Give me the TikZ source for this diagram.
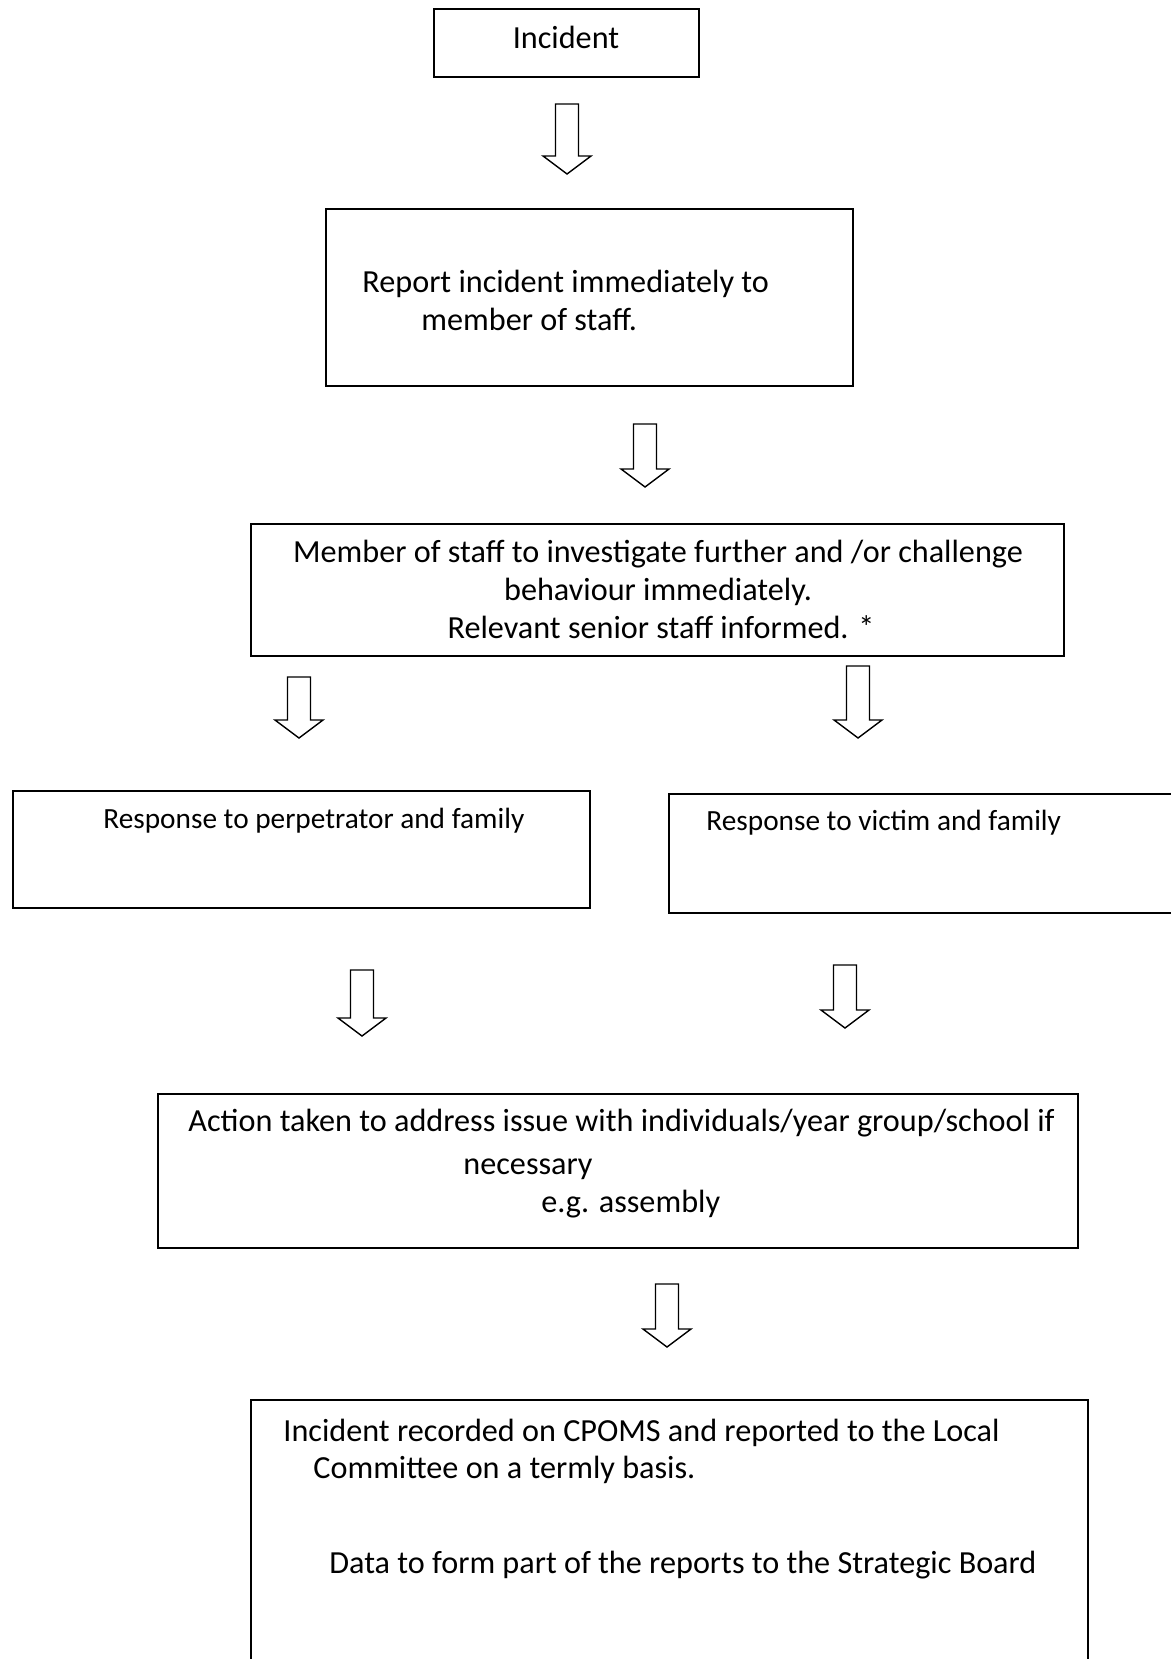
\documentclass[tikz,border=0pt]{standalone}
\usepackage{fontspec}
\setmainfont{Carlito}
\usetikzlibrary{calc}
\newlength\pxu
\setlength\pxu{0.5pt}

\tikzset{
    box/.style={draw, line width=1pt, inner sep=0pt, anchor=north west},
    txt/.style={font=\fontsize{16.1}{19}\selectfont, inner sep=0pt, text height=11.2pt, text depth=3.2pt},
    smalltxt/.style={txt, font=\fontsize{14.65}{18}\selectfont},
    hollow/.style={line width=0.7pt, line join=miter, to path={
        ($(\tikztostart)+(-11.5,0)$) -- ($(\tikztotarget)+(-11.5,-18)$) -- ($(\tikztotarget)+(-24,-18)$)
        -- (\tikztotarget) -- ($(\tikztotarget)+(24,-18)$) -- ($(\tikztotarget)+(11.5,-18)$)
        -- ($(\tikztostart)+(11.5,0)$) -- cycle}}
}

\begin{document}
\begin{tikzpicture}[x=0.5pt,y=-0.5pt]

    \clip (0,0) rectangle (1171,1659);

    % boxes
    \node[box, minimum width=265\pxu, minimum height=68\pxu] (inc) at (433,8) {};
    \node[box, minimum width=527\pxu, minimum height=177\pxu] (rep) at (325,208) {};
    \node[box, minimum width=813\pxu, minimum height=132\pxu] (staff) at (250,523) {};
    \node[box, minimum width=577\pxu, minimum height=117\pxu] (perp) at (12,790) {};
    \node[box, minimum width=540\pxu, minimum height=119\pxu] (vict) at (668,793) {}; % runs off the edge
    \node[box, minimum width=920\pxu, minimum height=154\pxu] (act) at (157,1093) {};
    \node[box, minimum width=837\pxu, minimum height=300\pxu] (rec) at (250,1399) {}; % runs off the edge

    % texts
    \node[txt] (t-inc) at (566,41) {Incident};
    \node[txt, anchor=west] (t-rep1) at (362,284) {Report incident immediately to};
    \node[txt, anchor=west] (t-rep2) at (421,322) {member of staff.};
    \node[txt] (t-staff1) at (658,554) {Member of staff to investigate further and /or challenge};
    \node[txt] (t-staff2) at (658,592) {behaviour immediately.};
    \node[txt] (t-staff3) at (661,630) {Relevant senior staff informed. *};
    \node[smalltxt, anchor=west] (t-perp) at (103,820) {Response to perpetrator and family};
    \node[smalltxt, anchor=west] (t-vict) at (706,822) {Response to victim and family};
    \node[txt, anchor=west] (t-act1) at (188,1123) {Action taken to address issue with individuals/year group/school if};
    \node[txt, anchor=west] (t-act2) at (463,1166) {necessary};
    \node[txt, anchor=west] (t-act3) at (541,1204) {e.g. assembly};
    \node[txt, anchor=west] (t-rec1) at (283,1433) {Incident recorded on CPOMS and reported to the Local};
    \node[txt, anchor=west] (t-rec2) at (313,1470) {Committee on a termly basis.};
    \node[txt, anchor=west] (t-rec3) at (329,1565) {Data to form part of the reports to the Strategic Board};

    % arrow ends
    \coordinate (a1s) at (567,104);  \coordinate (a1e) at (567,174);
    \coordinate (a2s) at (645,424);  \coordinate (a2e) at (645,487);
    \coordinate (a3s) at (299,677);  \coordinate (a3e) at (299,738);
    \coordinate (a4s) at (858,666);  \coordinate (a4e) at (858,738);
    \coordinate (a5s) at (362,970);  \coordinate (a5e) at (362,1036);
    \coordinate (a6s) at (845,965);  \coordinate (a6e) at (845,1028);
    \coordinate (a7s) at (667,1284); \coordinate (a7e) at (667,1347);

    % paths
    \draw[hollow] (a1s) to (a1e); % incident -> report
    \draw[hollow] (a2s) to (a2e); % report -> staff
    \draw[hollow] (a3s) to (a3e); % staff -> perpetrator
    \draw[hollow] (a4s) to (a4e); % staff -> victim
    \draw[hollow] (a5s) to (a5e); % perpetrator -> action
    \draw[hollow] (a6s) to (a6e); % victim -> action
    \draw[hollow] (a7s) to (a7e); % action -> record

\end{tikzpicture}
\end{document}
